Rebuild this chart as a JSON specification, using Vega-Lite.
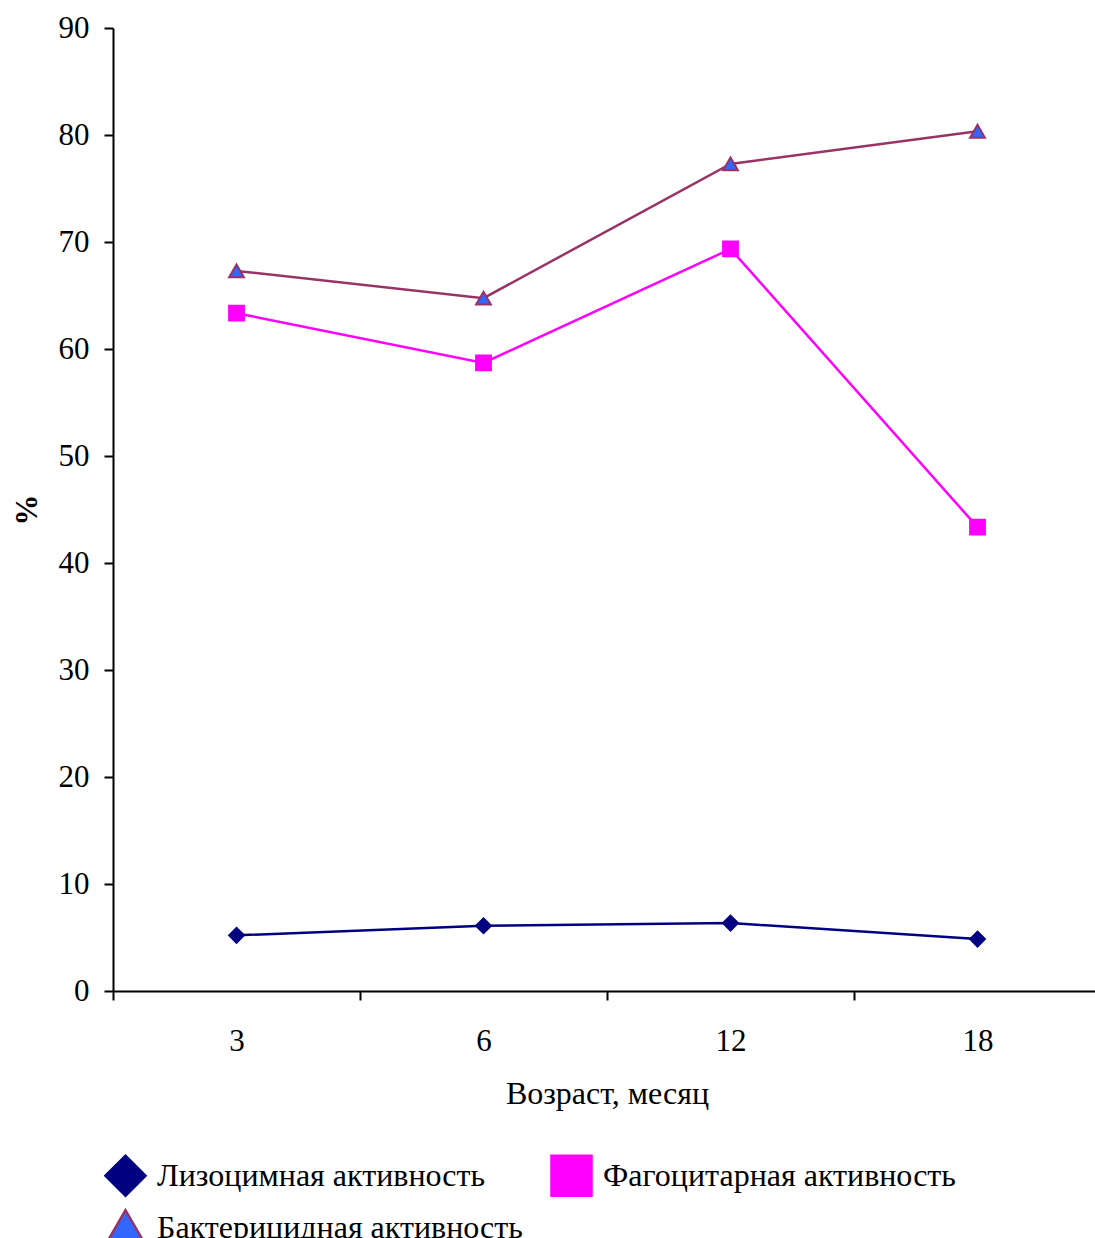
{
  "$schema": "https://vega.github.io/schema/vega-lite/v6.json",
  "width": 982,
  "height": 963,
  "autosize": {"type": "none"},
  "padding": {"left": 113, "top": 28, "right": 0, "bottom": 247},
  "background": "white",
  "config": {
    "view": {"stroke": null},
    "font": "Liberation Serif",
    "axis": {"labelFont": "Liberation Serif", "titleFont": "Liberation Serif", "labelColor": "black", "titleColor": "black", "domainColor": "black", "tickColor": "black", "domainWidth": 2, "tickWidth": 2, "grid": false},
    "legend": {"labelFont": "Liberation Serif", "labelColor": "black"}
  },
  "data": {
    "values": [
      {"age": "3", "series": "Лизоцимная активность", "value": 5.2},
      {"age": "6", "series": "Лизоцимная активность", "value": 6.1},
      {"age": "12", "series": "Лизоцимная активность", "value": 6.35},
      {"age": "18", "series": "Лизоцимная активность", "value": 4.85},
      {"age": "3", "series": "Фагоцитарная активность", "value": 63.35},
      {"age": "6", "series": "Фагоцитарная активность", "value": 58.7},
      {"age": "12", "series": "Фагоцитарная активность", "value": 69.35},
      {"age": "18", "series": "Фагоцитарная активность", "value": 43.35},
      {"age": "3", "series": "Бактерицидная активность", "value": 67.3},
      {"age": "6", "series": "Бактерицидная активность", "value": 64.75},
      {"age": "12", "series": "Бактерицидная активность", "value": 77.3},
      {"age": "18", "series": "Бактерицидная активность", "value": 80.35}
    ]
  },
  "encoding": {
    "x": {
      "field": "age", "type": "ordinal", "sort": ["3", "6", "12", "18"],
      "scale": {"paddingInner": 0, "paddingOuter": 0, "range": [0, 988]},
      "axis": {"title": "Возраст, месяц", "labelAngle": 0, "labelFontSize": 31, "titleFontSize": 32, "titleFontWeight": "normal", "tickBand": "extent", "tickSize": 9, "labelPadding": 26, "titlePadding": 22}
    },
    "y": {
      "field": "value", "type": "quantitative",
      "scale": {"domain": [0, 90], "nice": false},
      "axis": {"title": "%", "values": [0, 10, 20, 30, 40, 50, 60, 70, 80, 90], "labelFontSize": 31, "titleFontSize": 31, "titleFontWeight": "bold", "tickSize": 9, "labelPadding": 15, "titlePadding": 15}
    }
  },
  "layer": [
    {
      "mark": {"type": "line", "strokeWidth": 2.5},
      "encoding": {
        "color": {"field": "series", "type": "nominal", "legend": null,
          "scale": {"domain": ["Бактерицидная активность", "Лизоцимная активность", "Фагоцитарная активность"], "range": ["#993366", "#000080", "#FF00FF"]}}
      }
    },
    {
      "mark": {"type": "point", "filled": true, "opacity": 1, "size": 220, "strokeWidth": 2},
      "encoding": {
        "shape": {"field": "series", "type": "nominal",
          "scale": {"domain": ["Лизоцимная активность", "Фагоцитарная активность", "Бактерицидная активность"], "range": ["diamond", "square", "triangle-up"]},
          "legend": {
            "title": null, "orient": "none", "legendX": -9, "legendY": 1126, "columns": 2, "direction": "horizontal",
            "padding": 0, "symbolSize": 1600, "symbolStrokeWidth": 2.5, "labelFontSize": 32, "labelOffset": 10, "labelLimit": 600,
            "columnPadding": 23, "rowPadding": 4,
            "encode": {"symbols": {"shape": {"value": {"signal": "datum.value == 'Лизоцимная активность' ? 'M-1.5,0L1.5,0M0,-0.36L0.36,0L0,0.36L-0.36,0Z' : datum.value == 'Фагоцитарная активность' ? 'M-1.5,0L1.5,0M-0.34,-0.34L0.34,-0.34L0.34,0.34L-0.34,0.34Z' : 'M-1.5,0L1.5,0M0,-0.4L0.4,0.3L-0.4,0.3Z'"}}}}
          }},
        "fill": {"field": "series", "type": "nominal",
          "scale": {"domain": ["Лизоцимная активность", "Фагоцитарная активность", "Бактерицидная активность"], "range": ["#000080", "#FF00FF", "#3366FF"]},
          "legend": {
            "title": null, "orient": "none", "legendX": -9, "legendY": 1126, "columns": 2, "direction": "horizontal",
            "padding": 0, "symbolSize": 1600, "symbolStrokeWidth": 2.5, "labelFontSize": 32, "labelOffset": 10, "labelLimit": 600,
            "columnPadding": 23, "rowPadding": 4,
            "encode": {"symbols": {"shape": {"value": {"signal": "datum.value == 'Лизоцимная активность' ? 'M-1.5,0L1.5,0M0,-0.36L0.36,0L0,0.36L-0.36,0Z' : datum.value == 'Фагоцитарная активность' ? 'M-1.5,0L1.5,0M-0.34,-0.34L0.34,-0.34L0.34,0.34L-0.34,0.34Z' : 'M-1.5,0L1.5,0M0,-0.4L0.4,0.3L-0.4,0.3Z'"}}}}
          }},
        "stroke": {"field": "series", "type": "nominal",
          "scale": {"domain": ["Лизоцимная активность", "Фагоцитарная активность", "Бактерицидная активность"], "range": ["#000080", "#FF00FF", "#993366"]},
          "legend": {
            "title": null, "orient": "none", "legendX": -9, "legendY": 1126, "columns": 2, "direction": "horizontal",
            "padding": 0, "symbolSize": 1600, "symbolStrokeWidth": 2.5, "labelFontSize": 32, "labelOffset": 10, "labelLimit": 600,
            "columnPadding": 23, "rowPadding": 4,
            "encode": {"symbols": {"shape": {"value": {"signal": "datum.value == 'Лизоцимная активность' ? 'M-1.5,0L1.5,0M0,-0.36L0.36,0L0,0.36L-0.36,0Z' : datum.value == 'Фагоцитарная активность' ? 'M-1.5,0L1.5,0M-0.34,-0.34L0.34,-0.34L0.34,0.34L-0.34,0.34Z' : 'M-1.5,0L1.5,0M0,-0.4L0.4,0.3L-0.4,0.3Z'"}}}}
          }}
      }
    }
  ]
}
